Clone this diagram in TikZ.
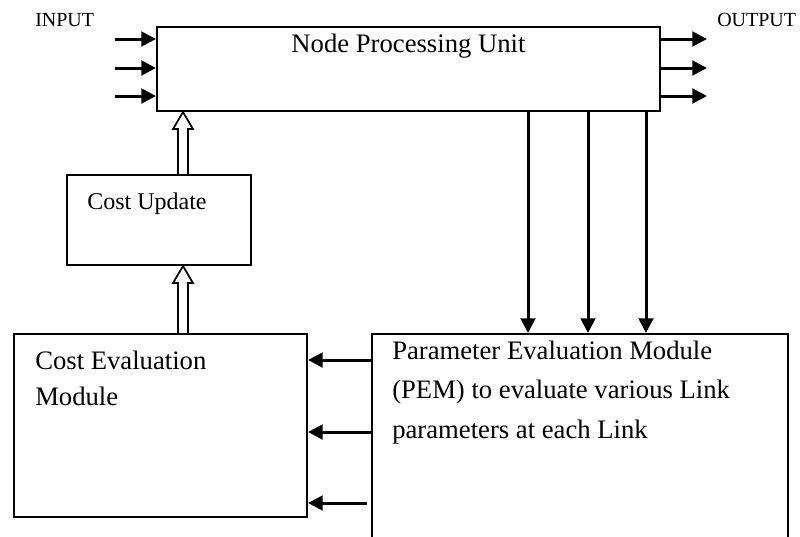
\documentclass[tikz,border=0pt]{standalone}
\usepackage{fontspec}
\setmainfont{Liberation Serif}
\usetikzlibrary{arrows.meta,fit,calc}
\tikzset{
  box/.style={draw, line width=1.6pt, inner sep=0pt},
  flow/.style={line width=2.25pt, -{Triangle[length=11pt,width=11pt]}},
  fat/.style={draw, line width=1.3pt, line join=miter},
  lbl/.style={inner sep=0pt, font=\fontsize{20}{27}\selectfont},
  io/.style={inner sep=0pt, anchor=base west, font=\fontsize{15}{18}\selectfont}
}
% hollow arrow from tail #1 up to tip #2
\newcommand{\fatarrow}[2]{%
  \draw[fat] ($(#1)+(-5,0)$) -- ($(#2)+(-5,17)$) -- ($(#2)+(-10,17)$) -- (#2)
    -- ($(#2)+(10,17)$) -- ($(#2)+(5,17)$) -- ($(#1)+(5,0)$);}
\begin{document}
\begin{tikzpicture}[x=0.75pt, y=-0.75pt]
\useasboundingbox (0,0) rectangle (800,536);
\clip (0,0) rectangle (800,536);

% boxes
\node[box, fit={(157,27) (660,111)}] (npu) {};
\node[box, fit={(67,175) (251,265)}] (cu) {};
\node[box, fit={(14,334) (307,517)}] (cem) {};
\node[box, fit={(372,334) (788,560)}] (pem) {};

% texts (multi-line nodes sit on their last baseline)
\node[io] (inlbl) at (35,26) {INPUT};
\node[io] (outlbl) at (717,26) {OUTPUT};
\node[lbl, anchor=base] (npulbl) at (408.5,52) {Node Processing Unit};
\node[lbl, anchor=base west, font=\fontsize{18}{22}\selectfont] (culbl) at (87,209) {Cost Update};
\node[lbl, anchor=base west, align=left] (cemlbl) at (35,405)
 {Cost Evaluation\\Module};
\node[lbl, anchor=base west, align=left, font=\fontsize{20}{29.6}\selectfont] (pemlbl) at (392,438)
 {Parameter Evaluation Module\\(PEM) to evaluate various Link\\parameters at each Link};

% input and output lines
\foreach \i/\y in {1/39, 2/68, 3/96} {
  \coordinate (in\i) at (115,\y);
  \coordinate (out\i) at (707,\y);
  \draw[flow] (in\i) -- (in\i -| npu.west);
  \draw[flow] (out\i -| npu.east) -- (out\i);
}

% links down to the PEM
\foreach \i/\x in {1/528, 2/588, 3/646} {
  \coordinate (dn\i) at (\x,0);
  \draw[flow] (dn\i |- npu.south) -- (dn\i |- pem.north);
}

% PEM to cost evaluation
\coordinate (lf1) at (0,360);
\coordinate (lf2) at (0,432);
\coordinate (lf3) at (367,503);
\draw[flow] (lf1 -| pem.west) -- (lf1 -| cem.east);
\draw[flow] (lf2 -| pem.west) -- (lf2 -| cem.east);
\draw[flow] (lf3) -- (lf3 -| cem.east);

% cost path upwards
\coordinate (up) at (183,0);
\fatarrow{up |- cem.north}{up |- cu.south}
\fatarrow{up |- cu.north}{up |- npu.south}
\end{tikzpicture}
\end{document}
